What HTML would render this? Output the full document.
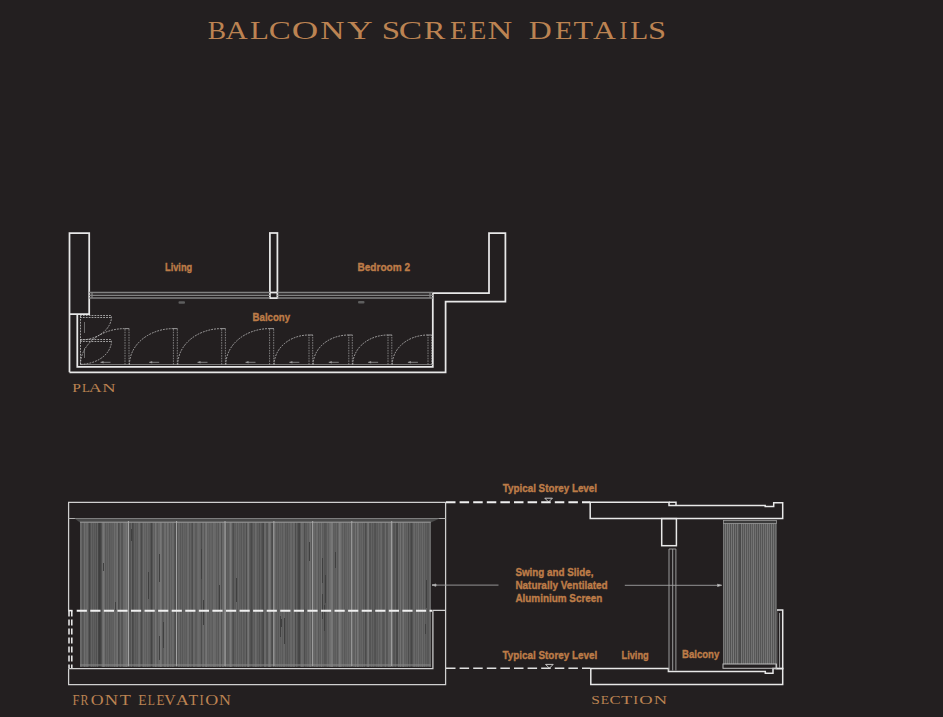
<!DOCTYPE html>
<html><head><meta charset="utf-8">
<style>
html,body{margin:0;padding:0;background:#231f20;}
body{width:943px;height:717px;overflow:hidden;}
svg{display:block;}
.t{font-family:"Liberation Serif",serif;fill:#bc8352;}
.s{font-family:"Liberation Sans",sans-serif;font-weight:bold;fill:#bd7c48;stroke:#bd7c48;stroke-width:0.38;}
</style></head><body>
<svg width="943" height="717" viewBox="0 0 943 717">
<defs><filter id="hb" x="0" y="0" width="1" height="1"><feGaussianBlur stdDeviation="0.8 0"/></filter></defs>
<rect width="943" height="717" fill="#231f20"/>
<text class="t"  font-size="25.96" transform="translate(207.81 39.30) scale(1.059 1)">B</text>
<text class="t"  font-size="25.96" transform="translate(225.40 39.30) scale(1.185 1)">A</text>
<text class="t"  font-size="25.96" transform="translate(250.11 39.30) scale(1.195 1)">L</text>
<text class="t"  font-size="25.96" transform="translate(268.65 39.30) scale(1.269 1)">C</text>
<text class="t"  font-size="25.96" transform="translate(291.79 39.30) scale(1.414 1)">O</text>
<text class="t"  font-size="25.96" transform="translate(320.33 39.30) scale(1.293 1)">N</text>
<text class="t"  font-size="25.96" transform="translate(347.00 39.30) scale(1.371 1)">Y</text>
<text class="t"  font-size="25.96" transform="translate(381.69 39.30) scale(1.271 1)">S</text>
<text class="t"  font-size="25.96" transform="translate(398.86 39.30) scale(1.350 1)">C</text>
<text class="t"  font-size="25.96" transform="translate(423.86 39.30) scale(1.252 1)">R</text>
<text class="t"  font-size="25.96" transform="translate(449.89 39.30) scale(1.078 1)">E</text>
<text class="t"  font-size="25.96" transform="translate(469.19 39.30) scale(1.078 1)">E</text>
<text class="t"  font-size="25.96" transform="translate(487.61 39.30) scale(1.321 1)">N</text>
<text class="t"  font-size="25.96" transform="translate(528.68 39.30) scale(1.226 1)">D</text>
<text class="t"  font-size="25.96" transform="translate(554.97 39.30) scale(1.107 1)">E</text>
<text class="t"  font-size="25.96" transform="translate(573.62 39.30) scale(1.237 1)">T</text>
<text class="t"  font-size="25.96" transform="translate(593.09 39.30) scale(1.218 1)">A</text>
<text class="t"  font-size="25.96" transform="translate(619.44 39.30) scale(0.912 1)">I</text>
<text class="t"  font-size="25.96" transform="translate(630.25 39.30) scale(1.136 1)">L</text>
<text class="t"  font-size="25.96" transform="translate(648.12 39.30) scale(1.253 1)">S</text>
<g fill="none" stroke="#e8e8e8" stroke-width="1.75">
<path d="M69.5 372.3 V233 H89.2 V314 H69.5"/>
<path d="M69.5 372.3 H445.6 V301.7 H505.4 V233 H489 V293 H432.8 V366.8 H77.3 V314"/>
<rect x="269.9" y="233" width="7.5" height="65.1"/>
<path d="M269.9 292.5 H277.4"/>
</g>
<g fill="none" stroke="#828282" stroke-width="1.3">
<path d="M89.2 292.5 H269.9 M89.2 295.3 H269.9 M89.2 298 H269.9 M277.4 292.5 H432.8 M277.4 295.3 H432.8 M277.4 298 H432.8 M92 292.5 V298 M430 292.5 V298"/>
</g>
<path d="M80 364.5 H432.8" stroke="#8c8c8c" stroke-width="0.8" fill="none"/>
<g fill="none" stroke="#a8a8a8" stroke-width="0.7" stroke-dasharray="1.6 1">
<path d="M125 364.5 V328.6 M129 364.5 V328.6"/>
<path d="M173.4 364.5 V328.6 M177.3 364.5 V328.6"/>
<path d="M221.7 364.5 V328.6 M225.4 364.5 V328.6"/>
<path d="M269.6 364.5 V328.6 M273.7 364.5 V328.6"/>
<path d="M309 364.5 V335 M312.7 364.5 V335"/>
<path d="M348.8 364.5 V335 M352.3 364.5 V335"/>
<path d="M388 364.5 V335 M391.8 364.5 V335"/>
<path d="M428 364.5 V335 M431.6 364.5 V335"/>
</g>
<g fill="none" stroke="#b4b4b4" stroke-width="0.8">
<path d="M124.7 328.6 H129.3"/>
<path d="M173.1 328.6 H177.60000000000002"/>
<path d="M221.39999999999998 328.6 H225.70000000000002"/>
<path d="M269.3 328.6 H274.0"/>
<path d="M308.7 335 H313.0"/>
<path d="M348.5 335 H352.6"/>
<path d="M387.7 335 H392.1"/>
<path d="M427.7 335 H431.90000000000003"/>
</g>
<g fill="none" stroke="#c4c4c4" stroke-width="0.8" stroke-dasharray="1.8 1.1">
<path d="M80.5 364.5 A44.5 35.89999999999998 0 0 1 125 328.6"/>
<path d="M129.5 364.5 A43.900000000000006 35.89999999999998 0 0 1 173.4 328.6"/>
<path d="M177.8 364.5 A43.89999999999998 35.89999999999998 0 0 1 221.7 328.6"/>
<path d="M225.9 364.5 A43.70000000000002 35.89999999999998 0 0 1 269.6 328.6"/>
<path d="M274.2 364.5 A34.80000000000001 29.5 0 0 1 309 335"/>
<path d="M313.2 364.5 A35.60000000000002 29.5 0 0 1 348.8 335"/>
<path d="M352.8 364.5 A35.19999999999999 29.5 0 0 1 388 335"/>
<path d="M392.3 364.5 A35.69999999999999 29.5 0 0 1 428 335"/>
<path d="M80 315.5 H111.5 M80 317.5 H111.5 M80 339.5 H111.5 M80 341.5 H111.5 M80.5 316 V364"/>
<path d="M111.5 316.5 A31.5 23.5 0 0 1 80 340"/>
<path d="M111.5 340.8 A31.5 23.5 0 0 1 80 364.3"/>
</g>
<g stroke="#8c8c8c" stroke-width="0.9" fill="#9c9c9c">
<path d="M100.5 362.3 H110.5"/><path d="M100.5 362.3 l3 -1.3 v2.6z" stroke="none"/>
<path d="M149.2 362.3 H159.2"/><path d="M149.2 362.3 l3 -1.3 v2.6z" stroke="none"/>
<path d="M197.5 362.3 H207.5"/><path d="M197.5 362.3 l3 -1.3 v2.6z" stroke="none"/>
<path d="M245.5 362.3 H255.5"/><path d="M245.5 362.3 l3 -1.3 v2.6z" stroke="none"/>
<path d="M289.35 362.3 H299.35"/><path d="M289.35 362.3 l3 -1.3 v2.6z" stroke="none"/>
<path d="M328.75 362.3 H338.75"/><path d="M328.75 362.3 l3 -1.3 v2.6z" stroke="none"/>
<path d="M368.15 362.3 H378.15"/><path d="M368.15 362.3 l3 -1.3 v2.6z" stroke="none"/>
<path d="M407.9 362.3 H417.9"/><path d="M407.9 362.3 l3 -1.3 v2.6z" stroke="none"/>
<path d="M84.5 333 V322 M84.5 358 V348" stroke-width="0.7"/>
</g>
<g fill="#5e5e5e"><rect x="178.5" y="301.2" width="6.5" height="2.5" rx="1"/><rect x="358" y="301" width="6.5" height="2.5" rx="1"/></g>
<g class="s" font-size="11.5">
<text x="165" y="271.2" textLength="27.2" lengthAdjust="spacingAndGlyphs">Living</text>
<text x="357.5" y="271.2" textLength="52.5" lengthAdjust="spacingAndGlyphs">Bedroom 2</text>
<text x="252.6" y="320.5" textLength="37.4" lengthAdjust="spacingAndGlyphs">Balcony</text>
</g>
<text class="t"  font-size="12.52" transform="translate(72.35 392.20) scale(1.245 1)">P</text>
<text class="t"  font-size="12.52" transform="translate(81.93 392.20) scale(1.025 1)">L</text>
<text class="t"  font-size="12.52" transform="translate(88.82 392.20) scale(1.438 1)">A</text>
<text class="t"  font-size="12.52" transform="translate(102.17 392.20) scale(1.477 1)">N</text>
<g shape-rendering="crispEdges" >
<rect x="80" y="522.4" width="1" height="144.10000000000002" fill="#6b6b6b"/>
<rect x="81" y="522.4" width="1" height="144.10000000000002" fill="#676767"/>
<rect x="82" y="522.4" width="1" height="144.10000000000002" fill="#555555"/>
<rect x="83" y="522.4" width="1" height="144.10000000000002" fill="#5a5a5a"/>
<rect x="84" y="522.4" width="1" height="144.10000000000002" fill="#6e6e6e"/>
<rect x="85" y="522.4" width="1" height="144.10000000000002" fill="#606060"/>
<rect x="86" y="522.4" width="1" height="144.10000000000002" fill="#676767"/>
<rect x="87" y="522.4" width="1" height="144.10000000000002" fill="#696969"/>
<rect x="88" y="522.4" width="1" height="144.10000000000002" fill="#565656"/>
<rect x="89" y="522.4" width="1" height="144.10000000000002" fill="#454545"/>
<rect x="90" y="522.4" width="1" height="144.10000000000002" fill="#535353"/>
<rect x="91" y="522.4" width="1" height="144.10000000000002" fill="#636363"/>
<rect x="92" y="522.4" width="1" height="144.10000000000002" fill="#565656"/>
<rect x="93" y="522.4" width="1" height="144.10000000000002" fill="#606060"/>
<rect x="94" y="522.4" width="1" height="144.10000000000002" fill="#565656"/>
<rect x="95" y="522.4" width="1" height="144.10000000000002" fill="#5e5e5e"/>
<rect x="96" y="522.4" width="1" height="144.10000000000002" fill="#505050"/>
<rect x="97" y="522.4" width="1" height="144.10000000000002" fill="#626262"/>
<rect x="98" y="522.4" width="1" height="144.10000000000002" fill="#444444"/>
<rect x="99" y="522.4" width="1" height="144.10000000000002" fill="#3e3e3e"/>
<rect x="100" y="522.4" width="1" height="144.10000000000002" fill="#434343"/>
<rect x="101" y="522.4" width="1" height="144.10000000000002" fill="#515151"/>
<rect x="102" y="522.4" width="1" height="144.10000000000002" fill="#6b6b6b"/>
<rect x="103" y="522.4" width="1" height="144.10000000000002" fill="#767676"/>
<rect x="104" y="522.4" width="1" height="144.10000000000002" fill="#6d6d6d"/>
<rect x="105" y="522.4" width="1" height="144.10000000000002" fill="#585858"/>
<rect x="106" y="522.4" width="1" height="144.10000000000002" fill="#636363"/>
<rect x="107" y="522.4" width="1" height="144.10000000000002" fill="#5c5c5c"/>
<rect x="108" y="522.4" width="1" height="144.10000000000002" fill="#666666"/>
<rect x="109" y="522.4" width="1" height="144.10000000000002" fill="#575757"/>
<rect x="110" y="522.4" width="1" height="144.10000000000002" fill="#5f5f5f"/>
<rect x="111" y="522.4" width="1" height="144.10000000000002" fill="#5d5d5d"/>
<rect x="112" y="522.4" width="1" height="144.10000000000002" fill="#606060"/>
<rect x="113" y="522.4" width="1" height="144.10000000000002" fill="#5d5d5d"/>
<rect x="114" y="522.4" width="1" height="144.10000000000002" fill="#6d6d6d"/>
<rect x="115" y="522.4" width="1" height="144.10000000000002" fill="#606060"/>
<rect x="116" y="522.4" width="1" height="144.10000000000002" fill="#6a6a6a"/>
<rect x="117" y="522.4" width="1" height="144.10000000000002" fill="#717171"/>
<rect x="118" y="522.4" width="1" height="144.10000000000002" fill="#4d4d4d"/>
<rect x="119" y="522.4" width="1" height="144.10000000000002" fill="#575757"/>
<rect x="120" y="522.4" width="1" height="144.10000000000002" fill="#686868"/>
<rect x="121" y="522.4" width="1" height="144.10000000000002" fill="#565656"/>
<rect x="122" y="522.4" width="1" height="144.10000000000002" fill="#555555"/>
<rect x="123" y="522.4" width="1" height="144.10000000000002" fill="#696969"/>
<rect x="124" y="522.4" width="1" height="144.10000000000002" fill="#6a6a6a"/>
<rect x="125" y="522.4" width="1" height="144.10000000000002" fill="#6c6c6c"/>
<rect x="126" y="522.4" width="1" height="144.10000000000002" fill="#747474"/>
<rect x="127" y="522.4" width="1" height="144.10000000000002" fill="#616161"/>
<rect x="128" y="522.4" width="1" height="144.10000000000002" fill="#696969"/>
<rect x="129" y="522.4" width="1" height="144.10000000000002" fill="#555555"/>
<rect x="130" y="522.4" width="1" height="144.10000000000002" fill="#545454"/>
<rect x="131" y="522.4" width="1" height="144.10000000000002" fill="#646464"/>
<rect x="132" y="522.4" width="1" height="144.10000000000002" fill="#484848"/>
<rect x="133" y="522.4" width="1" height="144.10000000000002" fill="#4f4f4f"/>
<rect x="134" y="522.4" width="1" height="144.10000000000002" fill="#606060"/>
<rect x="135" y="522.4" width="1" height="144.10000000000002" fill="#585858"/>
<rect x="136" y="522.4" width="1" height="144.10000000000002" fill="#5f5f5f"/>
<rect x="137" y="522.4" width="1" height="144.10000000000002" fill="#595959"/>
<rect x="138" y="522.4" width="1" height="144.10000000000002" fill="#696969"/>
<rect x="139" y="522.4" width="1" height="144.10000000000002" fill="#6d6d6d"/>
<rect x="140" y="522.4" width="1" height="144.10000000000002" fill="#595959"/>
<rect x="141" y="522.4" width="1" height="144.10000000000002" fill="#4b4b4b"/>
<rect x="142" y="522.4" width="1" height="144.10000000000002" fill="#5a5a5a"/>
<rect x="143" y="522.4" width="1" height="144.10000000000002" fill="#6c6c6c"/>
<rect x="144" y="522.4" width="1" height="144.10000000000002" fill="#606060"/>
<rect x="145" y="522.4" width="1" height="144.10000000000002" fill="#676767"/>
<rect x="146" y="522.4" width="1" height="144.10000000000002" fill="#5b5b5b"/>
<rect x="147" y="522.4" width="1" height="144.10000000000002" fill="#696969"/>
<rect x="148" y="522.4" width="1" height="144.10000000000002" fill="#5f5f5f"/>
<rect x="149" y="522.4" width="1" height="144.10000000000002" fill="#606060"/>
<rect x="150" y="522.4" width="1" height="144.10000000000002" fill="#555555"/>
<rect x="151" y="522.4" width="1" height="144.10000000000002" fill="#444444"/>
<rect x="152" y="522.4" width="1" height="144.10000000000002" fill="#545454"/>
<rect x="153" y="522.4" width="1" height="144.10000000000002" fill="#676767"/>
<rect x="154" y="522.4" width="1" height="144.10000000000002" fill="#5f5f5f"/>
<rect x="155" y="522.4" width="1" height="144.10000000000002" fill="#757575"/>
<rect x="156" y="522.4" width="1" height="144.10000000000002" fill="#676767"/>
<rect x="157" y="522.4" width="1" height="144.10000000000002" fill="#5d5d5d"/>
<rect x="158" y="522.4" width="1" height="144.10000000000002" fill="#696969"/>
<rect x="159" y="522.4" width="1" height="144.10000000000002" fill="#696969"/>
<rect x="160" y="522.4" width="1" height="144.10000000000002" fill="#777777"/>
<rect x="161" y="522.4" width="1" height="144.10000000000002" fill="#6f6f6f"/>
<rect x="162" y="522.4" width="1" height="144.10000000000002" fill="#595959"/>
<rect x="163" y="522.4" width="1" height="144.10000000000002" fill="#5b5b5b"/>
<rect x="164" y="522.4" width="1" height="144.10000000000002" fill="#6c6c6c"/>
<rect x="165" y="522.4" width="1" height="144.10000000000002" fill="#6d6d6d"/>
<rect x="166" y="522.4" width="1" height="144.10000000000002" fill="#5d5d5d"/>
<rect x="167" y="522.4" width="1" height="144.10000000000002" fill="#717171"/>
<rect x="168" y="522.4" width="1" height="144.10000000000002" fill="#6b6b6b"/>
<rect x="169" y="522.4" width="1" height="144.10000000000002" fill="#595959"/>
<rect x="170" y="522.4" width="1" height="144.10000000000002" fill="#696969"/>
<rect x="171" y="522.4" width="1" height="144.10000000000002" fill="#5f5f5f"/>
<rect x="172" y="522.4" width="1" height="144.10000000000002" fill="#6a6a6a"/>
<rect x="173" y="522.4" width="1" height="144.10000000000002" fill="#676767"/>
<rect x="174" y="522.4" width="1" height="144.10000000000002" fill="#545454"/>
<rect x="175" y="522.4" width="1" height="144.10000000000002" fill="#4e4e4e"/>
<rect x="176" y="522.4" width="1" height="144.10000000000002" fill="#606060"/>
<rect x="177" y="522.4" width="1" height="144.10000000000002" fill="#4c4c4c"/>
<rect x="178" y="522.4" width="1" height="144.10000000000002" fill="#666666"/>
<rect x="179" y="522.4" width="1" height="144.10000000000002" fill="#646464"/>
<rect x="180" y="522.4" width="1" height="144.10000000000002" fill="#575757"/>
<rect x="181" y="522.4" width="1" height="144.10000000000002" fill="#646464"/>
<rect x="182" y="522.4" width="1" height="144.10000000000002" fill="#575757"/>
<rect x="183" y="522.4" width="1" height="144.10000000000002" fill="#646464"/>
<rect x="184" y="522.4" width="1" height="144.10000000000002" fill="#5e5e5e"/>
<rect x="185" y="522.4" width="1" height="144.10000000000002" fill="#616161"/>
<rect x="186" y="522.4" width="1" height="144.10000000000002" fill="#5b5b5b"/>
<rect x="187" y="522.4" width="1" height="144.10000000000002" fill="#6a6a6a"/>
<rect x="188" y="522.4" width="1" height="144.10000000000002" fill="#6b6b6b"/>
<rect x="189" y="522.4" width="1" height="144.10000000000002" fill="#585858"/>
<rect x="190" y="522.4" width="1" height="144.10000000000002" fill="#636363"/>
<rect x="191" y="522.4" width="1" height="144.10000000000002" fill="#575757"/>
<rect x="192" y="522.4" width="1" height="144.10000000000002" fill="#4d4d4d"/>
<rect x="193" y="522.4" width="1" height="144.10000000000002" fill="#686868"/>
<rect x="194" y="522.4" width="1" height="144.10000000000002" fill="#676767"/>
<rect x="195" y="522.4" width="1" height="144.10000000000002" fill="#5b5b5b"/>
<rect x="196" y="522.4" width="1" height="144.10000000000002" fill="#5b5b5b"/>
<rect x="197" y="522.4" width="1" height="144.10000000000002" fill="#676767"/>
<rect x="198" y="522.4" width="1" height="144.10000000000002" fill="#6b6b6b"/>
<rect x="199" y="522.4" width="1" height="144.10000000000002" fill="#686868"/>
<rect x="200" y="522.4" width="1" height="144.10000000000002" fill="#626262"/>
<rect x="201" y="522.4" width="1" height="144.10000000000002" fill="#4d4d4d"/>
<rect x="202" y="522.4" width="1" height="144.10000000000002" fill="#656565"/>
<rect x="203" y="522.4" width="1" height="144.10000000000002" fill="#6b6b6b"/>
<rect x="204" y="522.4" width="1" height="144.10000000000002" fill="#5a5a5a"/>
<rect x="205" y="522.4" width="1" height="144.10000000000002" fill="#6e6e6e"/>
<rect x="206" y="522.4" width="1" height="144.10000000000002" fill="#757575"/>
<rect x="207" y="522.4" width="1" height="144.10000000000002" fill="#606060"/>
<rect x="208" y="522.4" width="1" height="144.10000000000002" fill="#656565"/>
<rect x="209" y="522.4" width="1" height="144.10000000000002" fill="#5e5e5e"/>
<rect x="210" y="522.4" width="1" height="144.10000000000002" fill="#656565"/>
<rect x="211" y="522.4" width="1" height="144.10000000000002" fill="#636363"/>
<rect x="212" y="522.4" width="1" height="144.10000000000002" fill="#5c5c5c"/>
<rect x="213" y="522.4" width="1" height="144.10000000000002" fill="#6b6b6b"/>
<rect x="214" y="522.4" width="1" height="144.10000000000002" fill="#696969"/>
<rect x="215" y="522.4" width="1" height="144.10000000000002" fill="#676767"/>
<rect x="216" y="522.4" width="1" height="144.10000000000002" fill="#5b5b5b"/>
<rect x="217" y="522.4" width="1" height="144.10000000000002" fill="#646464"/>
<rect x="218" y="522.4" width="1" height="144.10000000000002" fill="#575757"/>
<rect x="219" y="522.4" width="1" height="144.10000000000002" fill="#6b6b6b"/>
<rect x="220" y="522.4" width="1" height="144.10000000000002" fill="#6c6c6c"/>
<rect x="221" y="522.4" width="1" height="144.10000000000002" fill="#515151"/>
<rect x="222" y="522.4" width="1" height="144.10000000000002" fill="#686868"/>
<rect x="223" y="522.4" width="1" height="144.10000000000002" fill="#686868"/>
<rect x="224" y="522.4" width="1" height="144.10000000000002" fill="#5d5d5d"/>
<rect x="225" y="522.4" width="1" height="144.10000000000002" fill="#6e6e6e"/>
<rect x="226" y="522.4" width="1" height="144.10000000000002" fill="#595959"/>
<rect x="227" y="522.4" width="1" height="144.10000000000002" fill="#5f5f5f"/>
<rect x="228" y="522.4" width="1" height="144.10000000000002" fill="#5c5c5c"/>
<rect x="229" y="522.4" width="1" height="144.10000000000002" fill="#686868"/>
<rect x="230" y="522.4" width="1" height="144.10000000000002" fill="#787878"/>
<rect x="231" y="522.4" width="1" height="144.10000000000002" fill="#6c6c6c"/>
<rect x="232" y="522.4" width="1" height="144.10000000000002" fill="#575757"/>
<rect x="233" y="522.4" width="1" height="144.10000000000002" fill="#4d4d4d"/>
<rect x="234" y="522.4" width="1" height="144.10000000000002" fill="#5e5e5e"/>
<rect x="235" y="522.4" width="1" height="144.10000000000002" fill="#5c5c5c"/>
<rect x="236" y="522.4" width="1" height="144.10000000000002" fill="#686868"/>
<rect x="237" y="522.4" width="1" height="144.10000000000002" fill="#595959"/>
<rect x="238" y="522.4" width="1" height="144.10000000000002" fill="#676767"/>
<rect x="239" y="522.4" width="1" height="144.10000000000002" fill="#5d5d5d"/>
<rect x="240" y="522.4" width="1" height="144.10000000000002" fill="#606060"/>
<rect x="241" y="522.4" width="1" height="144.10000000000002" fill="#575757"/>
<rect x="242" y="522.4" width="1" height="144.10000000000002" fill="#666666"/>
<rect x="243" y="522.4" width="1" height="144.10000000000002" fill="#585858"/>
<rect x="244" y="522.4" width="1" height="144.10000000000002" fill="#5c5c5c"/>
<rect x="245" y="522.4" width="1" height="144.10000000000002" fill="#636363"/>
<rect x="246" y="522.4" width="1" height="144.10000000000002" fill="#4d4d4d"/>
<rect x="247" y="522.4" width="1" height="144.10000000000002" fill="#6b6b6b"/>
<rect x="248" y="522.4" width="1" height="144.10000000000002" fill="#747474"/>
<rect x="249" y="522.4" width="1" height="144.10000000000002" fill="#5c5c5c"/>
<rect x="250" y="522.4" width="1" height="144.10000000000002" fill="#525252"/>
<rect x="251" y="522.4" width="1" height="144.10000000000002" fill="#494949"/>
<rect x="252" y="522.4" width="1" height="144.10000000000002" fill="#555555"/>
<rect x="253" y="522.4" width="1" height="144.10000000000002" fill="#616161"/>
<rect x="254" y="522.4" width="1" height="144.10000000000002" fill="#5a5a5a"/>
<rect x="255" y="522.4" width="1" height="144.10000000000002" fill="#6c6c6c"/>
<rect x="256" y="522.4" width="1" height="144.10000000000002" fill="#646464"/>
<rect x="257" y="522.4" width="1" height="144.10000000000002" fill="#5a5a5a"/>
<rect x="258" y="522.4" width="1" height="144.10000000000002" fill="#5f5f5f"/>
<rect x="259" y="522.4" width="1" height="144.10000000000002" fill="#515151"/>
<rect x="260" y="522.4" width="1" height="144.10000000000002" fill="#616161"/>
<rect x="261" y="522.4" width="1" height="144.10000000000002" fill="#565656"/>
<rect x="262" y="522.4" width="1" height="144.10000000000002" fill="#4d4d4d"/>
<rect x="263" y="522.4" width="1" height="144.10000000000002" fill="#474747"/>
<rect x="264" y="522.4" width="1" height="144.10000000000002" fill="#686868"/>
<rect x="265" y="522.4" width="1" height="144.10000000000002" fill="#696969"/>
<rect x="266" y="522.4" width="1" height="144.10000000000002" fill="#565656"/>
<rect x="267" y="522.4" width="1" height="144.10000000000002" fill="#545454"/>
<rect x="268" y="522.4" width="1" height="144.10000000000002" fill="#6d6d6d"/>
<rect x="269" y="522.4" width="1" height="144.10000000000002" fill="#767676"/>
<rect x="270" y="522.4" width="1" height="144.10000000000002" fill="#6c6c6c"/>
<rect x="271" y="522.4" width="1" height="144.10000000000002" fill="#535353"/>
<rect x="272" y="522.4" width="1" height="144.10000000000002" fill="#4b4b4b"/>
<rect x="273" y="522.4" width="1" height="144.10000000000002" fill="#6a6a6a"/>
<rect x="274" y="522.4" width="1" height="144.10000000000002" fill="#595959"/>
<rect x="275" y="522.4" width="1" height="144.10000000000002" fill="#656565"/>
<rect x="276" y="522.4" width="1" height="144.10000000000002" fill="#5b5b5b"/>
<rect x="277" y="522.4" width="1" height="144.10000000000002" fill="#626262"/>
<rect x="278" y="522.4" width="1" height="144.10000000000002" fill="#585858"/>
<rect x="279" y="522.4" width="1" height="144.10000000000002" fill="#656565"/>
<rect x="280" y="522.4" width="1" height="144.10000000000002" fill="#5e5e5e"/>
<rect x="281" y="522.4" width="1" height="144.10000000000002" fill="#656565"/>
<rect x="282" y="522.4" width="1" height="144.10000000000002" fill="#5a5a5a"/>
<rect x="283" y="522.4" width="1" height="144.10000000000002" fill="#656565"/>
<rect x="284" y="522.4" width="1" height="144.10000000000002" fill="#676767"/>
<rect x="285" y="522.4" width="1" height="144.10000000000002" fill="#565656"/>
<rect x="286" y="522.4" width="1" height="144.10000000000002" fill="#5e5e5e"/>
<rect x="287" y="522.4" width="1" height="144.10000000000002" fill="#555555"/>
<rect x="288" y="522.4" width="1" height="144.10000000000002" fill="#626262"/>
<rect x="289" y="522.4" width="1" height="144.10000000000002" fill="#5b5b5b"/>
<rect x="290" y="522.4" width="1" height="144.10000000000002" fill="#676767"/>
<rect x="291" y="522.4" width="1" height="144.10000000000002" fill="#686868"/>
<rect x="292" y="522.4" width="1" height="144.10000000000002" fill="#5c5c5c"/>
<rect x="293" y="522.4" width="1" height="144.10000000000002" fill="#696969"/>
<rect x="294" y="522.4" width="1" height="144.10000000000002" fill="#676767"/>
<rect x="295" y="522.4" width="1" height="144.10000000000002" fill="#4c4c4c"/>
<rect x="296" y="522.4" width="1" height="144.10000000000002" fill="#606060"/>
<rect x="297" y="522.4" width="1" height="144.10000000000002" fill="#545454"/>
<rect x="298" y="522.4" width="1" height="144.10000000000002" fill="#474747"/>
<rect x="299" y="522.4" width="1" height="144.10000000000002" fill="#444444"/>
<rect x="300" y="522.4" width="1" height="144.10000000000002" fill="#595959"/>
<rect x="301" y="522.4" width="1" height="144.10000000000002" fill="#6c6c6c"/>
<rect x="302" y="522.4" width="1" height="144.10000000000002" fill="#686868"/>
<rect x="303" y="522.4" width="1" height="144.10000000000002" fill="#656565"/>
<rect x="304" y="522.4" width="1" height="144.10000000000002" fill="#4d4d4d"/>
<rect x="305" y="522.4" width="1" height="144.10000000000002" fill="#5c5c5c"/>
<rect x="306" y="522.4" width="1" height="144.10000000000002" fill="#595959"/>
<rect x="307" y="522.4" width="1" height="144.10000000000002" fill="#646464"/>
<rect x="308" y="522.4" width="1" height="144.10000000000002" fill="#5d5d5d"/>
<rect x="309" y="522.4" width="1" height="144.10000000000002" fill="#6a6a6a"/>
<rect x="310" y="522.4" width="1" height="144.10000000000002" fill="#707070"/>
<rect x="311" y="522.4" width="1" height="144.10000000000002" fill="#595959"/>
<rect x="312" y="522.4" width="1" height="144.10000000000002" fill="#636363"/>
<rect x="313" y="522.4" width="1" height="144.10000000000002" fill="#5a5a5a"/>
<rect x="314" y="522.4" width="1" height="144.10000000000002" fill="#676767"/>
<rect x="315" y="522.4" width="1" height="144.10000000000002" fill="#5f5f5f"/>
<rect x="316" y="522.4" width="1" height="144.10000000000002" fill="#6a6a6a"/>
<rect x="317" y="522.4" width="1" height="144.10000000000002" fill="#6b6b6b"/>
<rect x="318" y="522.4" width="1" height="144.10000000000002" fill="#585858"/>
<rect x="319" y="522.4" width="1" height="144.10000000000002" fill="#646464"/>
<rect x="320" y="522.4" width="1" height="144.10000000000002" fill="#5c5c5c"/>
<rect x="321" y="522.4" width="1" height="144.10000000000002" fill="#707070"/>
<rect x="322" y="522.4" width="1" height="144.10000000000002" fill="#5c5c5c"/>
<rect x="323" y="522.4" width="1" height="144.10000000000002" fill="#616161"/>
<rect x="324" y="522.4" width="1" height="144.10000000000002" fill="#545454"/>
<rect x="325" y="522.4" width="1" height="144.10000000000002" fill="#555555"/>
<rect x="326" y="522.4" width="1" height="144.10000000000002" fill="#595959"/>
<rect x="327" y="522.4" width="1" height="144.10000000000002" fill="#686868"/>
<rect x="328" y="522.4" width="1" height="144.10000000000002" fill="#5e5e5e"/>
<rect x="329" y="522.4" width="1" height="144.10000000000002" fill="#6b6b6b"/>
<rect x="330" y="522.4" width="1" height="144.10000000000002" fill="#6f6f6f"/>
<rect x="331" y="522.4" width="1" height="144.10000000000002" fill="#777777"/>
<rect x="332" y="522.4" width="1" height="144.10000000000002" fill="#767676"/>
<rect x="333" y="522.4" width="1" height="144.10000000000002" fill="#5d5d5d"/>
<rect x="334" y="522.4" width="1" height="144.10000000000002" fill="#606060"/>
<rect x="335" y="522.4" width="1" height="144.10000000000002" fill="#5c5c5c"/>
<rect x="336" y="522.4" width="1" height="144.10000000000002" fill="#666666"/>
<rect x="337" y="522.4" width="1" height="144.10000000000002" fill="#585858"/>
<rect x="338" y="522.4" width="1" height="144.10000000000002" fill="#686868"/>
<rect x="339" y="522.4" width="1" height="144.10000000000002" fill="#797979"/>
<rect x="340" y="522.4" width="1" height="144.10000000000002" fill="#727272"/>
<rect x="341" y="522.4" width="1" height="144.10000000000002" fill="#686868"/>
<rect x="342" y="522.4" width="1" height="144.10000000000002" fill="#5c5c5c"/>
<rect x="343" y="522.4" width="1" height="144.10000000000002" fill="#686868"/>
<rect x="344" y="522.4" width="1" height="144.10000000000002" fill="#585858"/>
<rect x="345" y="522.4" width="1" height="144.10000000000002" fill="#626262"/>
<rect x="346" y="522.4" width="1" height="144.10000000000002" fill="#5f5f5f"/>
<rect x="347" y="522.4" width="1" height="144.10000000000002" fill="#686868"/>
<rect x="348" y="522.4" width="1" height="144.10000000000002" fill="#5e5e5e"/>
<rect x="349" y="522.4" width="1" height="144.10000000000002" fill="#686868"/>
<rect x="350" y="522.4" width="1" height="144.10000000000002" fill="#606060"/>
<rect x="351" y="522.4" width="1" height="144.10000000000002" fill="#646464"/>
<rect x="352" y="522.4" width="1" height="144.10000000000002" fill="#555555"/>
<rect x="353" y="522.4" width="1" height="144.10000000000002" fill="#5f5f5f"/>
<rect x="354" y="522.4" width="1" height="144.10000000000002" fill="#5e5e5e"/>
<rect x="355" y="522.4" width="1" height="144.10000000000002" fill="#717171"/>
<rect x="356" y="522.4" width="1" height="144.10000000000002" fill="#5c5c5c"/>
<rect x="357" y="522.4" width="1" height="144.10000000000002" fill="#757575"/>
<rect x="358" y="522.4" width="1" height="144.10000000000002" fill="#6d6d6d"/>
<rect x="359" y="522.4" width="1" height="144.10000000000002" fill="#5c5c5c"/>
<rect x="360" y="522.4" width="1" height="144.10000000000002" fill="#636363"/>
<rect x="361" y="522.4" width="1" height="144.10000000000002" fill="#5e5e5e"/>
<rect x="362" y="522.4" width="1" height="144.10000000000002" fill="#676767"/>
<rect x="363" y="522.4" width="1" height="144.10000000000002" fill="#575757"/>
<rect x="364" y="522.4" width="1" height="144.10000000000002" fill="#626262"/>
<rect x="365" y="522.4" width="1" height="144.10000000000002" fill="#4b4b4b"/>
<rect x="366" y="522.4" width="1" height="144.10000000000002" fill="#565656"/>
<rect x="367" y="522.4" width="1" height="144.10000000000002" fill="#6c6c6c"/>
<rect x="368" y="522.4" width="1" height="144.10000000000002" fill="#727272"/>
<rect x="369" y="522.4" width="1" height="144.10000000000002" fill="#565656"/>
<rect x="370" y="522.4" width="1" height="144.10000000000002" fill="#545454"/>
<rect x="371" y="522.4" width="1" height="144.10000000000002" fill="#636363"/>
<rect x="372" y="522.4" width="1" height="144.10000000000002" fill="#565656"/>
<rect x="373" y="522.4" width="1" height="144.10000000000002" fill="#606060"/>
<rect x="374" y="522.4" width="1" height="144.10000000000002" fill="#535353"/>
<rect x="375" y="522.4" width="1" height="144.10000000000002" fill="#515151"/>
<rect x="376" y="522.4" width="1" height="144.10000000000002" fill="#5e5e5e"/>
<rect x="377" y="522.4" width="1" height="144.10000000000002" fill="#595959"/>
<rect x="378" y="522.4" width="1" height="144.10000000000002" fill="#666666"/>
<rect x="379" y="522.4" width="1" height="144.10000000000002" fill="#5b5b5b"/>
<rect x="380" y="522.4" width="1" height="144.10000000000002" fill="#646464"/>
<rect x="381" y="522.4" width="1" height="144.10000000000002" fill="#696969"/>
<rect x="382" y="522.4" width="1" height="144.10000000000002" fill="#585858"/>
<rect x="383" y="522.4" width="1" height="144.10000000000002" fill="#545454"/>
<rect x="384" y="522.4" width="1" height="144.10000000000002" fill="#5a5a5a"/>
<rect x="385" y="522.4" width="1" height="144.10000000000002" fill="#6c6c6c"/>
<rect x="386" y="522.4" width="1" height="144.10000000000002" fill="#565656"/>
<rect x="387" y="522.4" width="1" height="144.10000000000002" fill="#585858"/>
<rect x="388" y="522.4" width="1" height="144.10000000000002" fill="#6a6a6a"/>
<rect x="389" y="522.4" width="1" height="144.10000000000002" fill="#696969"/>
<rect x="390" y="522.4" width="1" height="144.10000000000002" fill="#6c6c6c"/>
<rect x="391" y="522.4" width="1" height="144.10000000000002" fill="#5f5f5f"/>
<rect x="392" y="522.4" width="1" height="144.10000000000002" fill="#636363"/>
<rect x="393" y="522.4" width="1" height="144.10000000000002" fill="#555555"/>
<rect x="394" y="522.4" width="1" height="144.10000000000002" fill="#535353"/>
<rect x="395" y="522.4" width="1" height="144.10000000000002" fill="#5f5f5f"/>
<rect x="396" y="522.4" width="1" height="144.10000000000002" fill="#494949"/>
<rect x="397" y="522.4" width="1" height="144.10000000000002" fill="#474747"/>
<rect x="398" y="522.4" width="1" height="144.10000000000002" fill="#6a6a6a"/>
<rect x="399" y="522.4" width="1" height="144.10000000000002" fill="#606060"/>
<rect x="400" y="522.4" width="1" height="144.10000000000002" fill="#717171"/>
<rect x="401" y="522.4" width="1" height="144.10000000000002" fill="#5b5b5b"/>
<rect x="402" y="522.4" width="1" height="144.10000000000002" fill="#666666"/>
<rect x="403" y="522.4" width="1" height="144.10000000000002" fill="#727272"/>
<rect x="404" y="522.4" width="1" height="144.10000000000002" fill="#5e5e5e"/>
<rect x="405" y="522.4" width="1" height="144.10000000000002" fill="#626262"/>
<rect x="406" y="522.4" width="1" height="144.10000000000002" fill="#5c5c5c"/>
<rect x="407" y="522.4" width="1" height="144.10000000000002" fill="#636363"/>
<rect x="408" y="522.4" width="1" height="144.10000000000002" fill="#4c4c4c"/>
<rect x="409" y="522.4" width="1" height="144.10000000000002" fill="#606060"/>
<rect x="410" y="522.4" width="1" height="144.10000000000002" fill="#515151"/>
<rect x="411" y="522.4" width="1" height="144.10000000000002" fill="#464646"/>
<rect x="412" y="522.4" width="1" height="144.10000000000002" fill="#525252"/>
<rect x="413" y="522.4" width="1" height="144.10000000000002" fill="#626262"/>
<rect x="414" y="522.4" width="1" height="144.10000000000002" fill="#686868"/>
<rect x="415" y="522.4" width="1" height="144.10000000000002" fill="#5a5a5a"/>
<rect x="416" y="522.4" width="1" height="144.10000000000002" fill="#666666"/>
<rect x="417" y="522.4" width="1" height="144.10000000000002" fill="#5d5d5d"/>
<rect x="418" y="522.4" width="1" height="144.10000000000002" fill="#6c6c6c"/>
<rect x="419" y="522.4" width="1" height="144.10000000000002" fill="#5b5b5b"/>
<rect x="420" y="522.4" width="1" height="144.10000000000002" fill="#636363"/>
<rect x="421" y="522.4" width="1" height="144.10000000000002" fill="#5c5c5c"/>
<rect x="422" y="522.4" width="1" height="144.10000000000002" fill="#6a6a6a"/>
<rect x="423" y="522.4" width="1" height="144.10000000000002" fill="#5a5a5a"/>
<rect x="424" y="522.4" width="1" height="144.10000000000002" fill="#666666"/>
<rect x="425" y="522.4" width="1" height="144.10000000000002" fill="#575757"/>
<rect x="426" y="522.4" width="1" height="144.10000000000002" fill="#5e5e5e"/>
<rect x="427" y="522.4" width="1" height="144.10000000000002" fill="#565656"/>
<rect x="428" y="522.4" width="1" height="144.10000000000002" fill="#575757"/>
<rect x="429" y="522.4" width="1" height="144.10000000000002" fill="#646464"/>
<rect x="430" y="522.4" width="1" height="144.10000000000002" fill="#686868"/>
<rect x="203" y="600" width="1" height="25" fill="#404040"/>
<rect x="148" y="572" width="1" height="27" fill="#404040"/>
<rect x="324" y="605" width="1" height="26" fill="#404040"/>
<rect x="115" y="602" width="1" height="8" fill="#404040"/>
<rect x="322" y="558" width="1" height="25" fill="#404040"/>
<rect x="201" y="549" width="1" height="30" fill="#404040"/>
<rect x="322" y="594" width="1" height="25" fill="#404040"/>
<rect x="325" y="575" width="1" height="28" fill="#404040"/>
<rect x="159" y="554" width="1" height="28" fill="#404040"/>
<rect x="159" y="636" width="1" height="24" fill="#404040"/>
<rect x="281" y="619" width="1" height="8" fill="#404040"/>
<rect x="425" y="624" width="1" height="10" fill="#404040"/>
<rect x="163" y="622" width="1" height="26" fill="#404040"/>
<rect x="103" y="563" width="1" height="8" fill="#404040"/>
<rect x="219" y="585" width="1" height="27" fill="#404040"/>
<rect x="280" y="616" width="1" height="21" fill="#404040"/>
<rect x="284" y="618" width="1" height="26" fill="#404040"/>
<rect x="309" y="542" width="1" height="19" fill="#404040"/>
<rect x="131" y="529" width="1" height="12" fill="#404040"/>
<rect x="335" y="552" width="1" height="16" fill="#404040"/>
<rect x="426" y="580" width="1" height="28" fill="#404040"/>
<rect x="236" y="578" width="1" height="24" fill="#404040"/>
</g>
<g fill="none" stroke="#d0d0d0" stroke-width="1.25">
<path d="M68.6 610.5 V502.3 H445.6 V684.5 H68.6 V668.5"/>
<path d="M68.6 668.5 H432.9 V610.4 H445.6"/>
</g>
<path d="M68.6 518.5 H445.6" stroke="#b0b0b0" stroke-width="1" fill="none"/>
<path d="M74.5 518.6 L80 522.4 H430.8 L439.7 518.6 Z" fill="#4a4a4a"/>
<path d="M80 522.2 H430.8" stroke="#a0a0a0" stroke-width="1"/>
<path d="M80 665 H430.8" stroke="#8a8a8a" stroke-width="1"/>
<g stroke="#aaaaaa" stroke-width="1">
<path d="M128.4 521 V666"/>
<path d="M176.6 521 V666"/>
<path d="M225 521 V666"/>
<path d="M273.9 521 V666"/>
<path d="M312.7 521 V666"/>
<path d="M351.8 521 V666"/>
<path d="M391.7 521 V666"/>
</g>
<path d="M76.7 610.7 H432" stroke="#f0f0f0" stroke-width="2" stroke-dasharray="10.2 3.37" fill="none"/>
<path d="M69 610.5 V668 M71.8 610.5 V668" stroke="#f0f0f0" stroke-width="1.5" stroke-dasharray="6 3" fill="none"/>
<path d="M68.3 610.6 H72.5" stroke="#f0f0f0" stroke-width="1.6"/>
<text class="t"  font-size="13.90" transform="translate(72.44 705.20) scale(0.908 1)">F</text>
<text class="t"  font-size="13.90" transform="translate(80.56 705.20) scale(0.859 1)">R</text>
<text class="t"  font-size="13.90" transform="translate(90.67 705.20) scale(1.281 1)">O</text>
<text class="t"  font-size="13.90" transform="translate(104.67 705.20) scale(1.331 1)">N</text>
<text class="t"  font-size="13.90" transform="translate(119.67 705.20) scale(1.311 1)">T</text>
<text class="t"  font-size="13.90" transform="translate(138.30 705.20) scale(0.987 1)">E</text>
<text class="t"  font-size="13.90" transform="translate(147.86 705.20) scale(0.841 1)">L</text>
<text class="t"  font-size="13.90" transform="translate(156.62 705.20) scale(0.946 1)">E</text>
<text class="t"  font-size="13.90" transform="translate(164.32 705.20) scale(1.131 1)">V</text>
<text class="t"  font-size="13.90" transform="translate(175.82 705.20) scale(1.316 1)">A</text>
<text class="t"  font-size="13.90" transform="translate(188.61 705.20) scale(1.136 1)">T</text>
<text class="t"  font-size="13.90" transform="translate(199.44 705.20) scale(0.907 1)">I</text>
<text class="t"  font-size="13.90" transform="translate(205.26 705.20) scale(1.293 1)">O</text>
<text class="t"  font-size="13.90" transform="translate(218.93 705.20) scale(1.181 1)">N</text>
<path d="M446 502.2 H590.2" stroke="#f0f0f0" stroke-width="2" stroke-dasharray="9.5 4.1" fill="none"/>
<path d="M446 668.2 H590.2" stroke="#e0e0e0" stroke-width="1.6" stroke-dasharray="9.5 4.1" fill="none"/>
<g fill="none" stroke="#e8e8e8" stroke-width="1.5">
<path d="M590.2 502.3 H669 V505.4 H765.2 V506.4 H773.7 V502.7 H782.7 V518.6 H590.2 Z"/>
<path d="M669 502.3 H676 V505.4"/>
<rect x="661.7" y="518.6" width="14.7" height="27.1"/>
<path d="M590.8 668.6 H668.4 V671.5 H765.3 V673.2 H773 V668.6 H782.7 V684.4 H590.8 Z"/>
<rect x="776.4" y="610" width="6.3" height="58.6"/>
</g>
<g fill="none" stroke="#9a9a9a" stroke-width="1">
<path d="M669 549 V670.5 M672.7 549 V670.5 M675.9 549 V670.5 M669 549 H675.9"/>
<path d="M779.6 613 V668"/>
</g>
<g shape-rendering="crispEdges" >
<rect x="723" y="523" width="1" height="141" fill="#777777"/>
<rect x="724" y="523" width="1" height="141" fill="#565656"/>
<rect x="725" y="523" width="1" height="141" fill="#797979"/>
<rect x="726" y="523" width="1" height="141" fill="#575757"/>
<rect x="727" y="523" width="1" height="141" fill="#7a7a7a"/>
<rect x="728" y="523" width="1" height="141" fill="#5c5c5c"/>
<rect x="729" y="523" width="1" height="141" fill="#767676"/>
<rect x="730" y="523" width="1" height="141" fill="#525252"/>
<rect x="731" y="523" width="1" height="141" fill="#757575"/>
<rect x="732" y="523" width="1" height="141" fill="#555555"/>
<rect x="733" y="523" width="1" height="141" fill="#787878"/>
<rect x="734" y="523" width="1" height="141" fill="#525252"/>
<rect x="735" y="523" width="1" height="141" fill="#707070"/>
<rect x="736" y="523" width="1" height="141" fill="#535353"/>
<rect x="737" y="523" width="1" height="141" fill="#737373"/>
<rect x="738" y="523" width="1" height="141" fill="#595959"/>
<rect x="739" y="523" width="1" height="141" fill="#4e4e4e"/>
<rect x="740" y="523" width="1" height="141" fill="#494949"/>
<rect x="741" y="523" width="1" height="141" fill="#777777"/>
<rect x="742" y="523" width="1" height="141" fill="#555555"/>
<rect x="743" y="523" width="1" height="141" fill="#6e6e6e"/>
<rect x="744" y="523" width="1" height="141" fill="#555555"/>
<rect x="745" y="523" width="1" height="141" fill="#747474"/>
<rect x="746" y="523" width="1" height="141" fill="#565656"/>
<rect x="747" y="523" width="1" height="141" fill="#707070"/>
<rect x="748" y="523" width="1" height="141" fill="#585858"/>
<rect x="749" y="523" width="1" height="141" fill="#707070"/>
<rect x="750" y="523" width="1" height="141" fill="#535353"/>
<rect x="751" y="523" width="1" height="141" fill="#707070"/>
<rect x="752" y="523" width="1" height="141" fill="#5b5b5b"/>
<rect x="753" y="523" width="1" height="141" fill="#777777"/>
<rect x="754" y="523" width="1" height="141" fill="#595959"/>
<rect x="755" y="523" width="1" height="141" fill="#707070"/>
<rect x="756" y="523" width="1" height="141" fill="#545454"/>
<rect x="757" y="523" width="1" height="141" fill="#6e6e6e"/>
<rect x="758" y="523" width="1" height="141" fill="#525252"/>
<rect x="759" y="523" width="1" height="141" fill="#717171"/>
<rect x="760" y="523" width="1" height="141" fill="#555555"/>
<rect x="761" y="523" width="1" height="141" fill="#707070"/>
<rect x="762" y="523" width="1" height="141" fill="#545454"/>
<rect x="763" y="523" width="1" height="141" fill="#727272"/>
<rect x="764" y="523" width="1" height="141" fill="#575757"/>
<rect x="765" y="523" width="1" height="141" fill="#717171"/>
<rect x="766" y="523" width="1" height="141" fill="#5a5a5a"/>
<rect x="767" y="523" width="1" height="141" fill="#787878"/>
<rect x="768" y="523" width="1" height="141" fill="#5c5c5c"/>
<rect x="769" y="523" width="1" height="141" fill="#717171"/>
<rect x="770" y="523" width="1" height="141" fill="#545454"/>
<rect x="771" y="523" width="1" height="141" fill="#797979"/>
<rect x="772" y="523" width="1" height="141" fill="#555555"/>
<rect x="773" y="523" width="1" height="141" fill="#747474"/>
<rect x="774" y="523" width="1" height="141" fill="#565656"/>
<rect x="775" y="523" width="1" height="141" fill="#6e6e6e"/>
<rect x="776" y="523" width="1" height="141" fill="#575757"/>
</g>
<rect x="723" y="664" width="53.4" height="4.3" fill="none" stroke="#bdbdbd" stroke-width="1"/>
<rect x="723.5" y="520.5" width="53" height="3" fill="#3a3a3a" stroke="#9a9a9a" stroke-width="0.8"/>
<g stroke="#a0a0a0" stroke-width="0.9" fill="#e0e0e0">
<path d="M432 585.1 H498.5"/>
<path d="M432 585.1 L436 584 V586.2 Z"/>
<path d="M624.8 585.3 H721.5"/>
<path d="M721.5 585.3 L717.5 584.2 V586.4 Z"/>
</g>
<g fill="none" stroke="#d8d8d8" stroke-width="0.9">
<path d="M544.8 498.2 H552.4 L548.6 502 Z"/>
<path d="M545.6 664.4 H553.2 L549.4 668.2 Z"/>
</g>
<g class="s" font-size="11">
<text x="502.8" y="492" textLength="94.2" lengthAdjust="spacingAndGlyphs">Typical Storey Level</text>
<text x="502.4" y="658.5" textLength="94.9" lengthAdjust="spacingAndGlyphs">Typical Storey Level</text>
<text x="621.5" y="658.5" textLength="27.2" lengthAdjust="spacingAndGlyphs">Living</text>
<text x="682" y="658.3" textLength="37.2" lengthAdjust="spacingAndGlyphs">Balcony</text>
<text x="515.4" y="576.2" textLength="78" lengthAdjust="spacingAndGlyphs">Swing and Slide,</text>
<text x="515.4" y="589.2" textLength="92.3" lengthAdjust="spacingAndGlyphs">Naturally Ventilated</text>
<text x="515.4" y="602" textLength="87" lengthAdjust="spacingAndGlyphs">Aluminium Screen</text>
</g>
<text class="t"  font-size="12.68" transform="translate(591.17 704.40) scale(1.219 1)">S</text>
<text class="t"  font-size="12.68" transform="translate(600.81 704.40) scale(1.067 1)">E</text>
<text class="t"  font-size="12.68" transform="translate(609.62 704.40) scale(1.313 1)">C</text>
<text class="t"  font-size="12.68" transform="translate(620.97 704.40) scale(1.438 1)">T</text>
<text class="t"  font-size="12.68" transform="translate(633.18 704.40) scale(1.145 1)">I</text>
<text class="t"  font-size="12.68" transform="translate(639.14 704.40) scale(1.467 1)">O</text>
<text class="t"  font-size="12.68" transform="translate(653.67 704.40) scale(1.459 1)">N</text>
</svg>
</body></html>
